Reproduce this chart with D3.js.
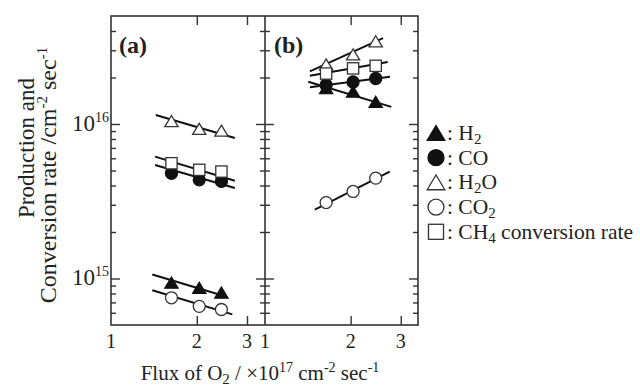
<!doctype html>
<html lang="en">
  <head>
    <meta charset="UTF-8" />
    <title>Production and conversion rate vs O2 flux</title>
    <style>
      body {
        margin: 0;
        background: #fff;
      }
      svg {
        display: block;
      }
      text {
        font-family: "Liberation Serif", "Times New Roman", serif;
        fill: #222;
      }
      .frame {
        fill: none;
        stroke: #333;
        stroke-width: 1.6px;
      }
      .tick line {
        stroke: #333;
        stroke-width: 1.4px;
      }
      .fit {
        stroke: #111;
        stroke-width: 2px;
      }
    </style>
  </head>
  <body>
    <script src="https://cdn.jsdelivr.net/npm/d3@7"></script>
    <script>
      // O2 flux (x 10^17 cm^-2 sec^-1) for the three points in each panel
      const fluxA = [1.63, 2.04, 2.44];
      const fluxB = [1.64, 2.04, 2.45];

      // panel (a) rates, cm^-2 sec^-1
      const h2oA = [1.045e16, 9.3e15, 9.05e15];
      const h2A = [9.4e14, 8.7e14, 8.1e14];
      const coA = [4.8e15, 4.35e15, 4.25e15];
      const co2A = [7.5e14, 6.6e14, 6.3e14];
      const ch4A = [5.57e15, 5.05e15, 4.92e15];

      // panel (b) rates
      const h2oB = [2.43e16, 2.82e16, 3.43e16];
      const h2B = [1.71e16, 1.62e16, 1.39e16];
      const coB = [1.79e16, 1.87e16, 1.97e16];
      const co2B = [3.1e15, 3.66e15, 4.46e15];
      const ch4B = [2.12e16, 2.29e16, 2.38e16];

      // fitted lines, [flux, rate] at both ends
      const fitH2oA = [[1.435, 1.143e16], [2.72, 8.12e15]];
      const fitCh4A = [[1.427, 6.15e15], [2.72, 4.29e15]];
      const fitCoA = [[1.427, 5.43e15], [2.72, 3.85e15]];
      const fitH2A = [[1.396, 1.06e15], [2.547, 7.62e14]];
      const fitCo2A = [[1.396, 8.4e14], [2.665, 5.86e14]];
      const fitH2oB = [[1.438, 2.19e16], [2.6, 3.6e16]];
      const fitCh4B = [[1.438, 2.05e16], [2.7, 2.52e16]];
      const fitCoB = [[1.438, 1.73e16], [2.75, 2.02e16]];
      const fitH2B = [[1.419, 1.875e16], [2.78, 1.29e16]];
      const fitCo2B = [[1.497, 2.79e15], [2.745, 4.92e15]];

      const xTicks = [1, 2, 3];
      const yMajor = [1e15, 1e16];
      const yMinor = [6e14, 7e14, 8e14, 9e14, 2e15, 3e15, 4e15, 5e15, 6e15, 7e15, 8e15, 9e15, 2e16, 3e16, 4e16];
      const expOf = { 1e15: "15", 1e16: "16" };

      const legendKeys = ["tri-f", "circ-f", "tri-o", "circ-o", "sq-o"];
      const legendLabels = [
        [["H"], ["2", "sub"]],
        [["CO"]],
        [["H"], ["2", "sub"], ["O"]],
        [["CO"], ["2", "sub"]],
        [["CH"], ["4", "sub"], [" conversion rate"]],
      ];

      const W = 640, H = 388;
      const pLeft = 111, pMid = 265, pRight = 418, pTop = 16, pBottom = 325;

      const svg = d3.select("body").append("svg").attr("width", W).attr("height", H);

      const xA = d3.scaleLog().domain([1, 3.47]).range([pLeft, pMid]);
      const xB = d3.scaleLog().domain([1, 3.45]).range([pMid, pRight]);
      const y = d3.scaleLog().domain([5e14, 5e16]).range([pBottom, pTop]);

      // ticks, all pointing into the panels
      function tickSet(axisFn, pos, scale, values, size) {
        svg.append("g")
          .attr("transform", pos)
          .call(axisFn(scale).tickValues(values).tickSize(size).tickFormat(""))
          .call((g) => g.select(".domain").remove());
      }
      [[d3.axisRight, pLeft], [d3.axisLeft, pMid], [d3.axisRight, pMid], [d3.axisLeft, pRight]].forEach(([fn, px]) => {
        tickSet(fn, `translate(${px},0)`, y, yMinor, 5);
        tickSet(fn, `translate(${px},0)`, y, yMajor, 9);
      });
      [xA, xB].forEach((sx) => {
        tickSet(d3.axisTop, `translate(0,${pBottom})`, sx, [2, 3], 9);
        tickSet(d3.axisBottom, `translate(0,${pTop})`, sx, [2, 3], 9);
      });

      svg.append("rect").attr("class", "frame")
        .attr("x", pLeft).attr("y", pTop).attr("width", pRight - pLeft).attr("height", pBottom - pTop);
      svg.append("line").attr("class", "frame")
        .attr("x1", pMid).attr("x2", pMid).attr("y1", pTop).attr("y2", pBottom);

      // y tick labels 10^n
      yMajor.forEach((v) => {
        const t = svg.append("text").attr("x", pLeft - 2).attr("y", y(v) + 7)
          .attr("text-anchor", "end").style("font-size", "23px");
        t.append("tspan").text("10");
        t.append("tspan").attr("dy", -9).style("font-size", "14px").text(expOf[v]);
      });

      // x tick labels
      [xA, xB].forEach((sx) => {
        svg.append("g").selectAll("text").data(xTicks).join("text")
          .attr("x", (d) => sx(d)).attr("y", 348)
          .attr("text-anchor", "middle").style("font-size", "20px")
          .text((d) => d);
      });

      // panel labels
      svg.append("text").attr("x", 119).attr("y", 53).style("font-size", "24px")
        .style("font-weight", "bold").text("(a)");
      svg.append("text").attr("x", 274).attr("y", 53).style("font-size", "24px")
        .style("font-weight", "bold").text("(b)");

      // fitted lines
      const fitsA = [fitH2oA, fitCh4A, fitCoA, fitH2A, fitCo2A];
      const fitsB = [fitH2oB, fitCh4B, fitCoB, fitH2B, fitCo2B];
      [[xA, fitsA], [xB, fitsB]].forEach(([sx, fits]) => {
        svg.append("g").selectAll("line").data(fits).join("line")
          .attr("class", "fit")
          .attr("x1", (d) => sx(d[0][0])).attr("y1", (d) => y(d[0][1]))
          .attr("x2", (d) => sx(d[1][0])).attr("y2", (d) => y(d[1][1]));
      });

      // marker shapes
      function marker(g, key, s) {
        const filled = key.endsWith("-f");
        const fill = filled ? "#111" : "#fff";
        const stroke = filled ? "#111" : "#333";
        let el;
        if (key.startsWith("tri")) {
          const w = s * 0.55, h = s * 0.46;
          el = g.append("path").attr("d", `M0,${-h}L${w},${h}L${-w},${h}Z`);
        } else if (key.startsWith("circ")) {
          el = g.append("circle").attr("r", s * 0.5);
        } else {
          el = g.append("rect").attr("x", -s * 0.47).attr("y", -s * 0.47)
            .attr("width", s * 0.94).attr("height", s * 0.94);
        }
        el.attr("fill", fill).attr("stroke", stroke).attr("stroke-width", 1.3);
      }

      function series(sx, xs, vals, key) {
        const g = svg.append("g");
        xs.forEach((xv, i) => {
          const m = g.append("g").attr("transform", `translate(${sx(xv)},${y(vals[i])})`);
          marker(m, key, 12);
        });
      }

      series(xA, fluxA, h2oA, "tri-o");
      series(xA, fluxA, h2A, "tri-f");
      series(xA, fluxA, coA, "circ-f");
      series(xA, fluxA, co2A, "circ-o");
      series(xA, fluxA, ch4A, "sq-o");

      series(xB, fluxB, h2oB, "tri-o");
      series(xB, fluxB, h2B, "tri-f");
      series(xB, fluxB, coB, "circ-f");
      series(xB, fluxB, co2B, "circ-o");
      series(xB, fluxB, ch4B, "sq-o");

      // legend
      const legend = svg.append("g");
      legendKeys.forEach((key, i) => {
        const cy = 133 + i * 24.7;
        const m = legend.append("g").attr("transform", `translate(436,${cy})`);
        marker(m, key, 16);
        const t = legend.append("text").attr("x", 447).attr("y", cy + 7).style("font-size", "21.5px");
        t.append("tspan").text(": ");
        legendLabels[i].forEach(([s, kind]) => {
          if (kind === "sub") {
            t.append("tspan").attr("dy", 4).style("font-size", "15px").text(s);
          } else {
            const sp = t.append("tspan").text(s);
            if (t.selectAll("tspan").size() > 2) sp.attr("dy", -4);
          }
        });
      });

      // x title
      const xt = svg.append("text").attr("x", 260).attr("y", 380)
        .attr("text-anchor", "middle").style("font-size", "21px");
      xt.append("tspan").text("Flux of O");
      xt.append("tspan").attr("dy", 4).style("font-size", "15px").text("2");
      xt.append("tspan").attr("dy", -4).text(" / \u00d710");
      xt.append("tspan").attr("dy", -8).style("font-size", "14px").text("17");
      xt.append("tspan").attr("dy", 8).text(" cm");
      xt.append("tspan").attr("dy", -8).style("font-size", "14px").text("-2");
      xt.append("tspan").attr("dy", 8).text(" sec");
      xt.append("tspan").attr("dy", -8).style("font-size", "14px").text("-1");

      // y title, two rotated lines
      svg.append("text").attr("transform", "translate(34,148) rotate(-90)")
        .attr("text-anchor", "middle").style("font-size", "23px").text("Production and");
      const yt2 = svg.append("text").attr("transform", "translate(56,175) rotate(-90)")
        .attr("text-anchor", "middle").style("font-size", "24px");
      yt2.append("tspan").text("Conversion rate /cm");
      yt2.append("tspan").attr("dy", -9).style("font-size", "15px").text("-2");
      yt2.append("tspan").attr("dy", 9).text(" sec");
      yt2.append("tspan").attr("dy", -9).style("font-size", "15px").text("-1");
    </script>
  </body>
</html>
